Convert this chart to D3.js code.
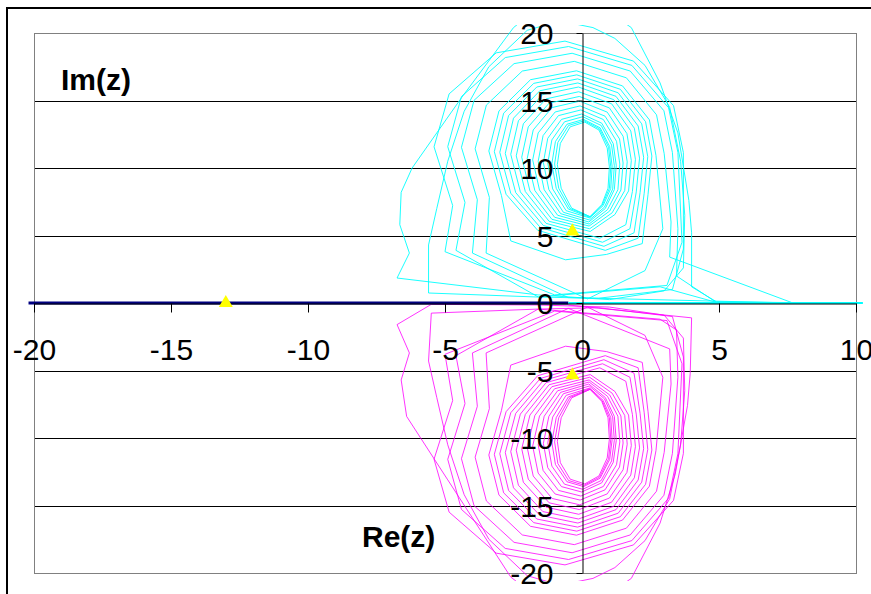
<!DOCTYPE html>
<html><head><meta charset="utf-8">
<script src="https://cdn.jsdelivr.net/npm/d3@7"></script>
<style>body{margin:0;background:#fff}svg{display:block}</style>
</head><body><svg id="c" width="871" height="594"></svg>
<script>
const xTicks = [-20, -15, -10, -5, 0, 5, 10];
const yTicks = [-20, -15, -10, -5, 0, 5, 10, 15, 20];
const axisTitles = {re: "Re(z)", im: "Im(z)"};

const realNeg = [[-20.2, 0], [-0.5, 0]];
const realPos = [[-0.5, 0], [10.25, 0]];
const markers = [[-13, 0], [-0.35, 5.3], [-0.35, -5.35]];

const cyanOuter = [
 [10.25,0],[8.0,0.02],[4.9,0.1],[4.0,1.2],[4.0,5.2],[3.9,7.6],[3.5,12.6],[2.85,16.3],[1.8,20.4],[0.3,22.5],[-1.2,22.5],[-2.5,20.4],[-4.4,15.2],[-6.2,10.0],[-6.6,8.2],[-6.65,5.8],[-6.3,3.7],[-6.75,1.85],[-1.6,0.6],[1.0,0.25],
 [3.0,0.9],[3.7,2.6],[3.75,6.5],[3.6,10.5],[3.2,14.5],[2.3,17.6],[1.2,19.6],[0.4,20.4],[-0.8,20.9],[-2.0,20.2],[-3.4,17.5],[-4.3,14.2],[-4.9,10.5],[-5.3,7.0],[-5.6,4.3],[-5.6,0.74],[-1.6,0.44],[0.6,0.35],[3.3,1.0],[3.7,4.0]
];
const cyanMid = [
 [3.7,11.14],[3.34,14.62],[1.88,17.92],[-0.62,19.4],[-3.13,18.53],[-4.85,15.49],[-5.4,11.57],[-4.72,7.22],[-5.0,3.8],[-1.0,0.6],[3.1,1.3],[3.65,4.5],
 [3.5,11.16],[3.16,14.46],[1.82,17.6],[-0.49,19.0],[-2.8,18.18],[-4.4,15.29],[-4.9,11.58],[-4.27,7.45],[-4.6,3.9],[-1.6,0.45],[2.85,1.2],[4.9,0.05],[3.45,2.0],[3.5,5.5],
 [3.3,11.14],[2.99,14.24],[1.76,17.18],[-0.36,18.5],[-2.48,17.73],[-3.94,15.01],[-4.4,11.53],[-3.82,7.65],[-4.0,3.7],[-0.5,0.4],[7.7,0.0],[3.2,3.4],[3.25,6.0],
 [3.0,11.06],[2.72,13.94],[1.62,16.68],[-0.28,17.9],[-2.18,17.18],[-3.49,14.66],[-3.9,11.42],[-3.38,7.82],[-3.5,3.7],[0.2,0.3],[2.3,2.4],[2.95,5.5],
 [2.7,10.93],[2.46,13.57],[1.48,16.08],[-0.2,17.2],[-1.88,16.54],[-3.03,14.23],[-3.4,11.26],[-2.94,7.96],[-2.6,4.6],[-0.6,3.2]
];
const cyanInner = [
 [0.9,3.6],[2.2,4.4],[2.41,8.05],[2.55,10.89],[2.32,13.43],[1.4,15.83],[-0.19,16.9],[-1.76,16.27],[-2.86,14.06],[-3.2,11.21],[-2.77,8.05],[-1.62,5.39],
 [0.85,3.9],[2.05,4.8],[2.27,8.13],[2.4,10.85],[2.18,13.27],[1.32,15.57],[-0.16,16.6],[-1.65,16.0],[-2.68,13.88],[-3.0,11.16],[-2.6,8.13],[-1.52,5.59],
 [0.8,4.2],[1.9,5.2],[2.12,8.18],[2.25,10.79],[2.05,13.11],[1.24,15.31],[-0.15,16.3],[-1.54,15.72],[-2.5,13.69],[-2.8,11.08],[-2.42,8.18],[-1.41,5.74],
 [0.75,4.5],[1.75,5.5],[1.98,8.23],[2.1,10.73],[1.91,12.95],[1.16,15.06],[-0.13,16.0],[-1.43,15.45],[-2.32,13.5],[-2.6,11.01],[-2.25,8.23],[-1.31,5.9],
 [0.65,4.8],[1.6,5.8],[1.84,8.26],[1.95,10.64],[1.78,12.75],[1.08,14.76],[-0.12,15.65],[-1.31,15.12],[-2.14,13.28],[-2.4,10.9],[-2.07,8.26],[-1.2,6.05],
 [0.3,5.3],[1.2,6.55],[1.7,8.3],[1.8,10.55],[1.64,12.55],[1.0,14.45],[-0.1,15.3],[-1.2,14.8],[-1.96,13.05],[-2.2,10.8],[-1.9,8.3],[-1.1,6.2],
 [0.28,5.5],[1.1,6.68],[1.56,8.33],[1.65,10.46],[1.5,12.35],[0.92,14.14],[-0.08,14.95],[-1.09,14.48],[-1.78,12.82],[-2.0,10.7],[-1.72,8.33],[-1.0,6.35],
 [0.26,5.7],[1.01,6.81],[1.42,8.37],[1.5,10.37],[1.37,12.15],[0.84,13.84],[-0.07,14.6],[-0.98,14.15],[-1.6,12.6],[-1.8,10.6],[-1.55,8.37],[-0.89,6.5],
 [0.26,5.85],[0.93,6.91],[1.31,8.39],[1.38,10.29],[1.26,11.98],[0.78,13.59],[-0.04,14.3],[-0.86,13.88],[-1.42,12.4],[-1.6,10.5],[-1.38,8.39],[-0.78,6.62],
 [0.25,6.0],[0.85,7.0],[1.18,8.4],[1.25,10.2],[1.14,11.8],[0.72,13.32],[-0.01,14.0],[-0.75,13.6],[-1.25,12.2],[-1.41,10.4],[-1.21,8.4],[-0.68,6.72],
 [0.27,6.15],[0.82,7.1],[1.12,8.45],[1.18,10.17],[1.08,11.7],[0.7,13.15],[0.03,13.8],[-0.64,13.42],[-1.1,12.08],[-1.25,10.36],[-1.07,8.45],[-0.58,6.84],
 [0.28,6.3],[0.77,7.21],[1.05,8.49],[1.1,10.13],[1.01,11.59],[0.66,12.98],[0.06,13.6],[-0.55,13.24],[-0.97,11.96],[-1.1,10.32],[-0.94,8.49],[-0.5,6.96],
 [0.28,6.35],[0.74,7.25],[1.0,8.5],[1.05,10.1],[0.97,11.54],[0.64,12.9],[0.08,13.5],[-0.49,13.15],[-0.88,11.9],[-1.0,10.29],[-0.85,8.5],[-0.44,7.0],
 [0.29,6.4],[0.72,7.28],[0.95,8.5],[1.0,10.08],[0.92,11.48],[0.62,12.81],[0.1,13.4],[-0.43,13.05],[-0.79,11.83],[-0.9,10.25],[-0.76,8.5],[-0.38,7.03],[0.29,6.4]
];

const magentaOuter = [
 [-0.5,-0.15],[4.0,-1.1],[3.95,-5.2],[3.85,-7.6],[3.4,-12.7],[2.85,-16.3],[1.8,-20.4],[0.3,-22.5],[-1.2,-22.5],[-2.6,-20.3],[-4.9,-13.1],[-6.4,-8.4],[-6.6,-5.7],[-6.3,-3.7],[-6.75,-1.6],[-5.5,-0.1],[-1.6,-0.15],[1.0,-0.3],
 [3.0,-0.9],[3.7,-2.6],[3.75,-6.5],[3.6,-10.5],[3.2,-14.5],[2.3,-17.6],[1.2,-19.6],[0.4,-20.4],[-0.8,-20.9],[-2.0,-20.2],[-3.4,-17.5],[-4.3,-14.2],[-4.9,-10.5],[-5.3,-7.0],[-5.6,-4.3],[-5.5,-0.75],[-1.6,-0.45],[0.6,-0.35],[3.3,-1.0],[3.7,-4.0]
];
const magentaMid = [
 [3.7,-11.14],[3.34,-14.62],[1.88,-17.92],[-0.62,-19.4],[-3.13,-18.53],[-4.85,-15.49],[-5.4,-11.57],[-4.72,-7.22],[-5.0,-3.8],[-1.0,-0.6],[3.1,-1.3],[3.65,-4.5],
 [3.5,-11.16],[3.16,-14.46],[1.82,-17.6],[-0.49,-19.0],[-2.8,-18.18],[-4.4,-15.29],[-4.9,-11.58],[-4.27,-7.45],[-4.6,-3.9],[-1.6,-0.45],[2.85,-1.2],[3.45,-2.0],[3.5,-5.5],
 [3.3,-11.14],[2.99,-14.24],[1.76,-17.18],[-0.36,-18.5],[-2.48,-17.73],[-3.94,-15.01],[-4.4,-11.53],[-3.82,-7.65],[-4.0,-3.7],[-0.5,-0.4],[3.2,-3.4],[3.25,-6.0],
 [3.0,-11.06],[2.72,-13.94],[1.62,-16.68],[-0.28,-17.9],[-2.18,-17.18],[-3.49,-14.66],[-3.9,-11.42],[-3.38,-7.82],[-3.5,-3.7],[0.2,-0.3],[2.3,-2.4],[2.95,-5.5],
 [2.7,-10.93],[2.46,-13.57],[1.48,-16.08],[-0.2,-17.2],[-1.88,-16.54],[-3.03,-14.23],[-3.4,-11.26],[-2.94,-7.96],[-2.6,-4.6],[-0.6,-3.2]
];
const magentaInner = [
 [0.9,-3.6],[2.2,-4.4],[2.41,-8.05],[2.55,-10.89],[2.32,-13.43],[1.4,-15.83],[-0.19,-16.9],[-1.76,-16.27],[-2.86,-14.06],[-3.2,-11.21],[-2.77,-8.05],[-1.62,-5.39],
 [0.85,-3.9],[2.05,-4.8],[2.27,-8.13],[2.4,-10.85],[2.18,-13.27],[1.32,-15.57],[-0.16,-16.6],[-1.65,-16.0],[-2.68,-13.88],[-3.0,-11.16],[-2.6,-8.13],[-1.52,-5.59],
 [0.8,-4.2],[1.9,-5.2],[2.12,-8.18],[2.25,-10.79],[2.05,-13.11],[1.24,-15.31],[-0.15,-16.3],[-1.54,-15.72],[-2.5,-13.69],[-2.8,-11.08],[-2.42,-8.18],[-1.41,-5.74],
 [0.75,-4.5],[1.75,-5.5],[1.98,-8.23],[2.1,-10.73],[1.91,-12.95],[1.16,-15.06],[-0.13,-16.0],[-1.43,-15.45],[-2.32,-13.5],[-2.6,-11.01],[-2.25,-8.23],[-1.31,-5.9],
 [0.65,-4.8],[1.6,-5.8],[1.84,-8.26],[1.95,-10.64],[1.78,-12.75],[1.08,-14.76],[-0.12,-15.65],[-1.31,-15.12],[-2.14,-13.28],[-2.4,-10.9],[-2.07,-8.26],[-1.2,-6.05],
 [0.3,-5.3],[1.2,-6.55],[1.7,-8.3],[1.8,-10.55],[1.64,-12.55],[1.0,-14.45],[-0.1,-15.3],[-1.2,-14.8],[-1.96,-13.05],[-2.2,-10.8],[-1.9,-8.3],[-1.1,-6.2],
 [0.28,-5.5],[1.1,-6.68],[1.56,-8.33],[1.65,-10.46],[1.5,-12.35],[0.92,-14.14],[-0.08,-14.95],[-1.09,-14.48],[-1.78,-12.82],[-2.0,-10.7],[-1.72,-8.33],[-1.0,-6.35],
 [0.26,-5.7],[1.01,-6.81],[1.42,-8.37],[1.5,-10.37],[1.37,-12.15],[0.84,-13.84],[-0.07,-14.6],[-0.98,-14.15],[-1.6,-12.6],[-1.8,-10.6],[-1.55,-8.37],[-0.89,-6.5],
 [0.26,-5.85],[0.93,-6.91],[1.31,-8.39],[1.38,-10.29],[1.26,-11.98],[0.78,-13.59],[-0.04,-14.3],[-0.86,-13.88],[-1.42,-12.4],[-1.6,-10.5],[-1.38,-8.39],[-0.78,-6.62],
 [0.25,-6.0],[0.85,-7.0],[1.18,-8.4],[1.25,-10.2],[1.14,-11.8],[0.72,-13.32],[-0.01,-14.0],[-0.75,-13.6],[-1.25,-12.2],[-1.41,-10.4],[-1.21,-8.4],[-0.68,-6.72],
 [0.27,-6.15],[0.82,-7.1],[1.12,-8.45],[1.18,-10.17],[1.08,-11.7],[0.7,-13.15],[0.03,-13.8],[-0.64,-13.42],[-1.1,-12.08],[-1.25,-10.36],[-1.07,-8.45],[-0.58,-6.84],
 [0.28,-6.3],[0.77,-7.21],[1.05,-8.49],[1.1,-10.13],[1.01,-11.59],[0.66,-12.98],[0.06,-13.6],[-0.55,-13.24],[-0.97,-11.96],[-1.1,-10.32],[-0.94,-8.49],[-0.5,-6.96],
 [0.28,-6.35],[0.74,-7.25],[1.0,-8.5],[1.05,-10.1],[0.97,-11.54],[0.64,-12.9],[0.08,-13.5],[-0.49,-13.15],[-0.88,-11.9],[-1.0,-10.29],[-0.85,-8.5],[-0.44,-7.0],
 [0.29,-6.4],[0.72,-7.28],[0.95,-8.5],[1.0,-10.08],[0.92,-11.48],[0.62,-12.81],[0.1,-13.4],[-0.43,-13.05],[-0.79,-11.83],[-0.9,-10.25],[-0.76,-8.5],[-0.38,-7.03],[0.29,-6.4]
];

const FONT = "'Liberation Sans', Arial, Helvetica, sans-serif";
const svg = d3.select("#c");
const x = d3.scaleLinear().domain([-20, 10]).range([34, 856]);
const y = d3.scaleLinear().domain([-20, 20]).range([573, 33]);

svg.append("rect").attr("x", 7).attr("y", 8).attr("width", 900).attr("height", 700)
  .attr("fill", "#fff").attr("stroke", "#000").attr("stroke-width", 2);

svg.append("g").selectAll("line").data(yTicks.filter(v => v !== 0)).join("line")
  .attr("x1", x(-20)).attr("x2", x(10))
  .attr("y1", d => Math.round(y(d)) + 0.5).attr("y2", d => Math.round(y(d)) + 0.5)
  .attr("stroke", "#000").attr("stroke-width", 1);

svg.append("rect").attr("x", x(-20) + 0.5).attr("y", y(20) + 0.5)
  .attr("width", x(10) - x(-20)).attr("height", y(-20) - y(20))
  .attr("fill", "none").attr("stroke", "#808080").attr("stroke-width", 1);

svg.append("defs").append("clipPath").attr("id", "clip").append("rect")
  .attr("x", x(-20) - 7).attr("y", y(20) - 8)
  .attr("width", x(10) - x(-20) + 14).attr("height", y(-20) - y(20) + 16);

const line = d3.line().x(d => x(d[0])).y(d => y(d[1]));
const data = svg.append("g").attr("clip-path", "url(#clip)");
data.append("path").datum(cyanOuter.concat(cyanMid, cyanInner))
  .attr("d", line).attr("fill", "none").attr("stroke", "#00FFFF").attr("stroke-width", 0.9);
data.append("path").datum(magentaOuter.concat(magentaMid, magentaInner))
  .attr("d", line).attr("fill", "none").attr("stroke", "#FF00FF").attr("stroke-width", 0.8);

const fmt = d => String(d);
const yAxis = d3.axisLeft(y).tickValues(yTicks).tickSize(6).tickSizeOuter(0).tickPadding(23).tickFormat(fmt);
const gy = svg.append("g").attr("transform", `translate(${Math.round(x(0)) + 0.5},0)`).call(yAxis);
const xAxis = d3.axisBottom(x).tickValues(xTicks).tickSize(9).tickSizeOuter(0).tickPadding(26).tickFormat(fmt);
const gx = svg.append("g").attr("transform", `translate(0,${Math.round(y(0)) + 0.5})`).call(xAxis);
[gx, gy].forEach(g => {
  g.selectAll("path,line").attr("stroke", "#000").attr("stroke-width", 1);
  g.selectAll("text").attr("font-family", FONT).attr("font-size", 30).attr("fill", "#000");
});
gy.selectAll("text").attr("dy", "0.35em");

data.append("path").datum(realNeg).attr("d", line).attr("fill", "none")
  .attr("stroke", "#000080").attr("stroke-width", 3);
data.append("path").datum(realPos).attr("d", line).attr("fill", "none")
  .attr("stroke", "#00FFFF").attr("stroke-width", 2);

svg.append("g").selectAll("path").data(markers).join("path")
  .attr("transform", d => `translate(${x(d[0])},${y(d[1])})`)
  .attr("d", d3.symbol(d3.symbolTriangle, 85))
  .attr("fill", "#FFFF00");

svg.append("text").attr("x", 61).attr("y", 90).text(axisTitles.im)
  .attr("font-family", FONT).attr("font-weight", "bold").attr("font-size", 30);
svg.append("text").attr("x", 362).attr("y", 547).text(axisTitles.re)
  .attr("font-family", FONT).attr("font-weight", "bold").attr("font-size", 30);
</script></body></html>
